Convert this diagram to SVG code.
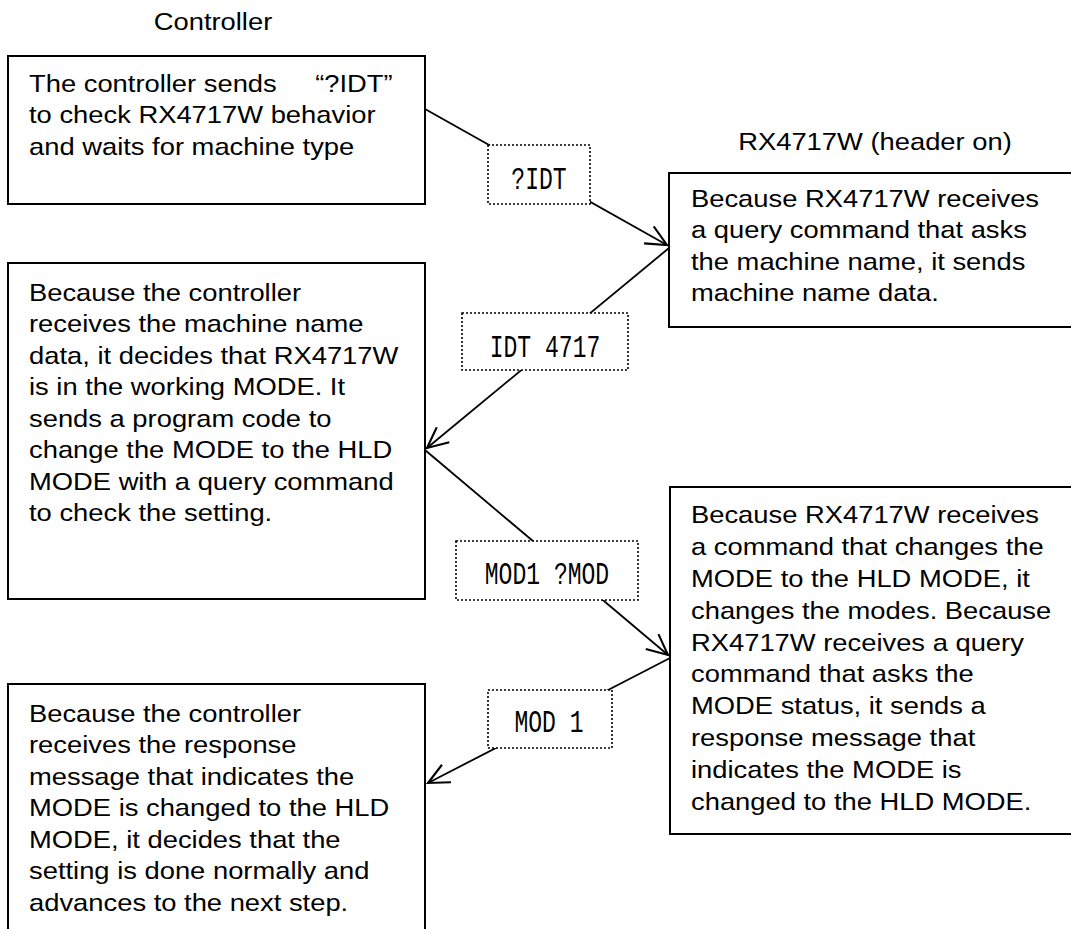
<svg xmlns="http://www.w3.org/2000/svg" width="1071" height="929" viewBox="0 0 1071 929">
<defs>
<marker id="arr" markerUnits="userSpaceOnUse" markerWidth="30" markerHeight="30" viewBox="-22 -12 26 24" refX="0" refY="0" orient="auto">
<path d="M-18,-8.5 L0,0 L-18,8.5" fill="none" stroke="#000" stroke-width="1.8"/>
</marker>
<style>
.box{fill:#fff;stroke:#000;stroke-width:2}
.lbl{fill:#fff;stroke:#000;stroke-width:1.6;stroke-dasharray:2 2}
.t{font-family:"Liberation Sans",Arial,sans-serif;font-size:24px;fill:#000}
.m{font-family:"Liberation Mono","DejaVu Sans Mono",monospace;font-size:32px;fill:#000;text-anchor:middle}
.ln{fill:none;stroke:#000;stroke-width:1.8}
</style>
</defs>
<rect width="1071" height="929" fill="#fff"/>
<g id="headers">
<text class="t" text-anchor="middle" transform="translate(213 30) scale(1.14 1)">Controller</text>
<text class="t" text-anchor="middle" transform="translate(875 150) scale(1.14 1)">RX4717W (header on)</text>
</g>
<g id="connectors">
<line class="ln" x1="425" y1="109" x2="667" y2="245" marker-end="url(#arr)"/>
<line class="ln" x1="669" y1="248" x2="427" y2="448" marker-end="url(#arr)"/>
<line class="ln" x1="425" y1="450" x2="668" y2="655" marker-end="url(#arr)"/>
<line class="ln" x1="670" y1="658" x2="428" y2="783" marker-end="url(#arr)"/>
</g>
<g id="node1">
<rect class="box" x="8" y="56" width="417" height="148"/>
<text class="t" transform="translate(29 0) scale(1.14 1)"><tspan x="0" y="92">The controller sends</tspan><tspan x="251" y="92">“?IDT”</tspan><tspan x="0" y="123.5">to check RX4717W behavior</tspan><tspan x="0" y="155">and waits for machine type</tspan></text>
</g>
<g id="node2">
<rect class="box" x="669" y="173" width="410" height="154"/>
<text class="t" transform="translate(691 0) scale(1.14 1)"><tspan x="0" y="207">Because RX4717W receives</tspan><tspan x="0" y="238.5">a query command that asks</tspan><tspan x="0" y="270">the machine name, it sends</tspan><tspan x="0" y="301.5">machine name data.</tspan></text>
</g>
<g id="node3">
<rect class="box" x="8" y="263" width="417" height="336"/>
<text class="t" transform="translate(29 0) scale(1.14 1)"><tspan x="0" y="301">Because the controller</tspan><tspan x="0" y="332.5">receives the machine name</tspan><tspan x="0" y="364">data, it decides that RX4717W</tspan><tspan x="0" y="395.5">is in the working MODE. It</tspan><tspan x="0" y="427">sends a program code to</tspan><tspan x="0" y="458.5">change the MODE to the HLD</tspan><tspan x="0" y="490">MODE with a query command</tspan><tspan x="0" y="521.5">to check the setting.</tspan></text>
</g>
<g id="node4">
<rect class="box" x="670" y="487" width="410" height="347"/>
<text class="t" transform="translate(691 0) scale(1.14 1)"><tspan x="0" y="523">Because RX4717W receives</tspan><tspan x="0" y="555">a command that changes the</tspan><tspan x="0" y="587">MODE to the HLD MODE, it</tspan><tspan x="0" y="619">changes the modes. Because</tspan><tspan x="0" y="651">RX4717W receives a query</tspan><tspan x="0" y="682">command that asks the</tspan><tspan x="0" y="714">MODE status, it sends a</tspan><tspan x="0" y="746">response message that</tspan><tspan x="0" y="778">indicates the MODE is</tspan><tspan x="0" y="810">changed to the HLD MODE.</tspan></text>
</g>
<g id="node5">
<rect class="box" x="8" y="684" width="417" height="260"/>
<text class="t" transform="translate(29 0) scale(1.14 1)"><tspan x="0" y="722">Because the controller</tspan><tspan x="0" y="753.5">receives the response</tspan><tspan x="0" y="785">message that indicates the</tspan><tspan x="0" y="816.5">MODE is changed to the HLD</tspan><tspan x="0" y="848">MODE, it decides that the</tspan><tspan x="0" y="879.5">setting is done normally and</tspan><tspan x="0" y="911">advances to the next step.</tspan></text>
</g>
<g id="label1">
<rect class="lbl" x="488" y="145" width="102" height="59"/>
<text class="m" transform="translate(539 189) scale(0.72 1)">?IDT</text>
</g>
<g id="label2">
<rect class="lbl" x="462" y="313" width="166" height="57"/>
<text class="m" transform="translate(545 357) scale(0.72 1)">IDT 4717</text>
</g>
<g id="label3">
<rect class="lbl" x="456" y="541" width="182" height="59"/>
<text class="m" transform="translate(547 584) scale(0.72 1)">MOD1 ?MOD</text>
</g>
<g id="label4">
<rect class="lbl" x="488" y="690" width="124" height="58"/>
<text class="m" transform="translate(549 732) scale(0.72 1)">MOD 1</text>
</g>
</svg>
